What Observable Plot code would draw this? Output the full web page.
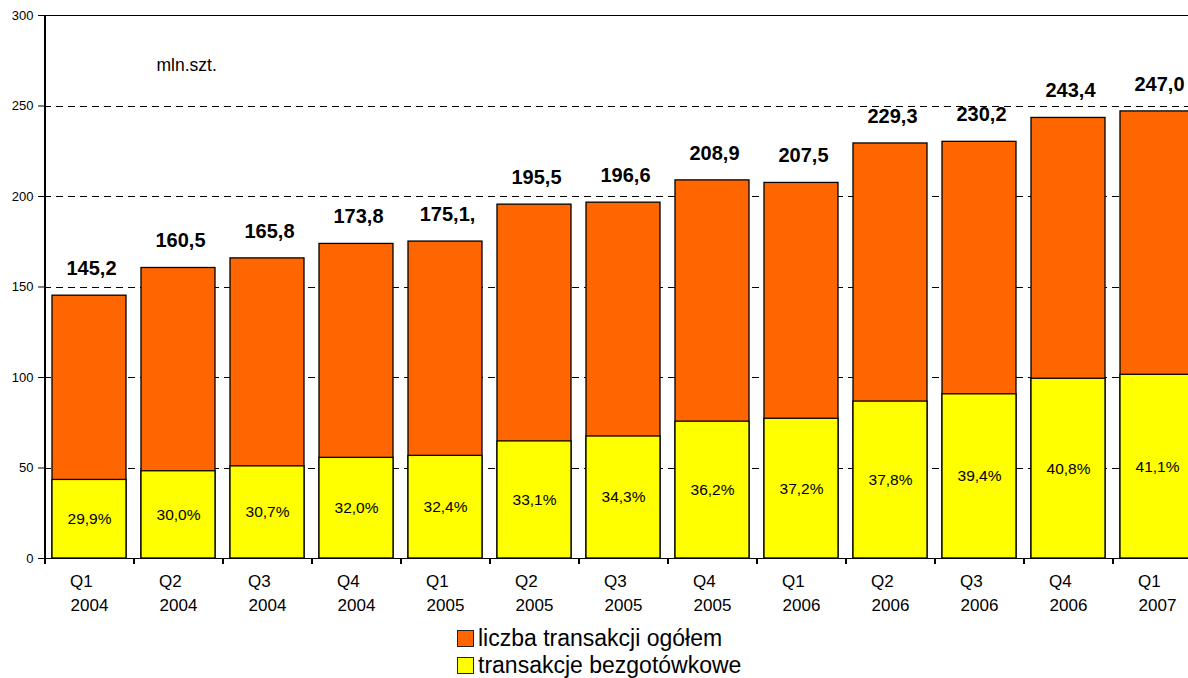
<!DOCTYPE html>
<html><head><meta charset="utf-8">
<script src="https://cdn.jsdelivr.net/npm/d3@7"></script>
<script src="https://cdn.jsdelivr.net/npm/@observablehq/plot@0.6"></script>
<style>
body{margin:0;background:#fff;font-family:"Liberation Sans",Arial,sans-serif;overflow:hidden;}
#chart svg{display:block;}
#legend{position:relative;height:56px;}
.row{position:absolute;left:457px;display:flex;align-items:center;font-size:23px;color:#000;line-height:23px;white-space:nowrap;}
.sw{width:15px;height:15px;border:1px solid #222;margin-right:4px;box-sizing:content-box;}
</style></head><body>
<div id="chart"></div>
<div id="legend"></div>
<script>
const quarters = ["Q1","Q2","Q3","Q4","Q1","Q2","Q3","Q4","Q1","Q2","Q3","Q4","Q1"];
const years = ["2004","2004","2004","2004","2005","2005","2005","2005","2006","2006","2006","2006","2007"];
const totals = [145.2,160.5,165.8,173.8,175.1,195.5,196.6,208.9,207.5,229.3,230.2,243.4,247.0];
const totalLabels = ["145,2","160,5","165,8","173,8","175,1,","195,5","196,6","208,9","207,5","229,3","230,2","243,4","247,0"];
const cashless = [43.4,48.2,50.9,55.6,56.7,64.7,67.4,75.6,77.2,86.7,90.7,99.3,101.5];
const shares = ["29,9%","30,0%","30,7%","32,0%","32,4%","33,1%","34,3%","36,2%","37,2%","37,8%","39,4%","40,8%","41,1%"];
const yTicks = [0,50,100,150,200,250,300];
const gridValues = [50,100,150,200,250];
const unitLabel = ["mln.szt."];
const legendItems = ["liczba transakcji ogółem","transakcje bezgotówkowe"];
const colors = ["#FF6600","#FFFF00"];

const cats = quarters.map((q,i)=>q+" "+years[i]);
const data = cats.map((c,i)=>({cat:c,q:quarters[i],year:years[i],total:totals[i],cash:cashless[i],label:totalLabels[i],share:shares[i]}));

const W = 1188, H = 622, mL = 44, mR = -13, mT = 15, mB = 64;
const step = (W - mR - mL) / cats.length;
const frameH = H - mT - mB;

const plot = Plot.plot({
  width: W, height: H,
  marginLeft: mL, marginRight: mR, marginTop: mT, marginBottom: mB,
  style: {fontFamily: '"Liberation Sans", Arial, sans-serif', fontSize: "13px", color: "#000", background: "#fff"},
  x: {domain: cats, range: [mL, W - mR], paddingInner: 0.17, paddingOuter: 0.085, axis: null},
  y: {domain: [0, 300], range: [H - mB, mT]},
  marks: [
    Plot.ruleY(gridValues, {stroke: "#000", strokeWidth: 1, strokeDasharray: "7,5", shapeRendering: "crispEdges"}),
    Plot.barY(data, {x: "cat", y1: 0, y2: "total", fill: colors[0], stroke: "#000", strokeWidth: 1.3}),
    Plot.barY(data, {x: "cat", y1: 0, y2: "cash", fill: colors[1], stroke: "#000", strokeWidth: 1.3}),
    Plot.ruleY([0, 300], {stroke: "#000", strokeWidth: 1.2, shapeRendering: "crispEdges"}),
    Plot.ruleX([cats[0]], {x: d => d, dx: -step / 2, stroke: "#000", strokeWidth: 1.2, shapeRendering: "crispEdges"}),
    Plot.ruleX(cats, {x: d => d, dx: -step / 2, insetTop: frameH, insetBottom: -6, stroke: "#000", strokeWidth: 1.2, shapeRendering: "crispEdges"}),
    Plot.axisY({ticks: yTicks, tickSize: 6, tickPadding: 5, fontSize: 13, label: null, tickFormat: d => String(d), stroke: "#000", fill: "#000"}),
    Plot.text(data, {x: "cat", y: "total", text: "label", dy: -27, dx: 2, fontWeight: "bold", fontSize: 20, fill: "#000"}),
    Plot.text(data, {x: "cat", y: d => d.cash / 2, text: "share", fontSize: 15.5, fill: "#000"}),
    Plot.text(data, {x: "cat", frameAnchor: "bottom", text: "q", dy: 28.5, dx: -19.5, textAnchor: "start", fontSize: 17, fill: "#000"}),
    Plot.text(data, {x: "cat", frameAnchor: "bottom", text: "year", dy: 52, fontSize: 17, fill: "#000"}),
    Plot.text(unitLabel, {frameAnchor: "top-left", dx: 112, dy: 43, textAnchor: "start", fontSize: 17.5, fill: "#000"})
  ]
});
document.getElementById("chart").appendChild(plot);

const legend = document.getElementById("legend");
legendItems.forEach((name, i) => {
  const row = document.createElement("div");
  row.className = "row";
  row.style.top = (4.5 + i * 27) + "px";
  const sw = document.createElement("div");
  sw.className = "sw";
  sw.style.background = colors[i];
  const t = document.createElement("span");
  t.textContent = name;
  row.appendChild(sw); row.appendChild(t);
  legend.appendChild(row);
});
</script>
</body></html>
